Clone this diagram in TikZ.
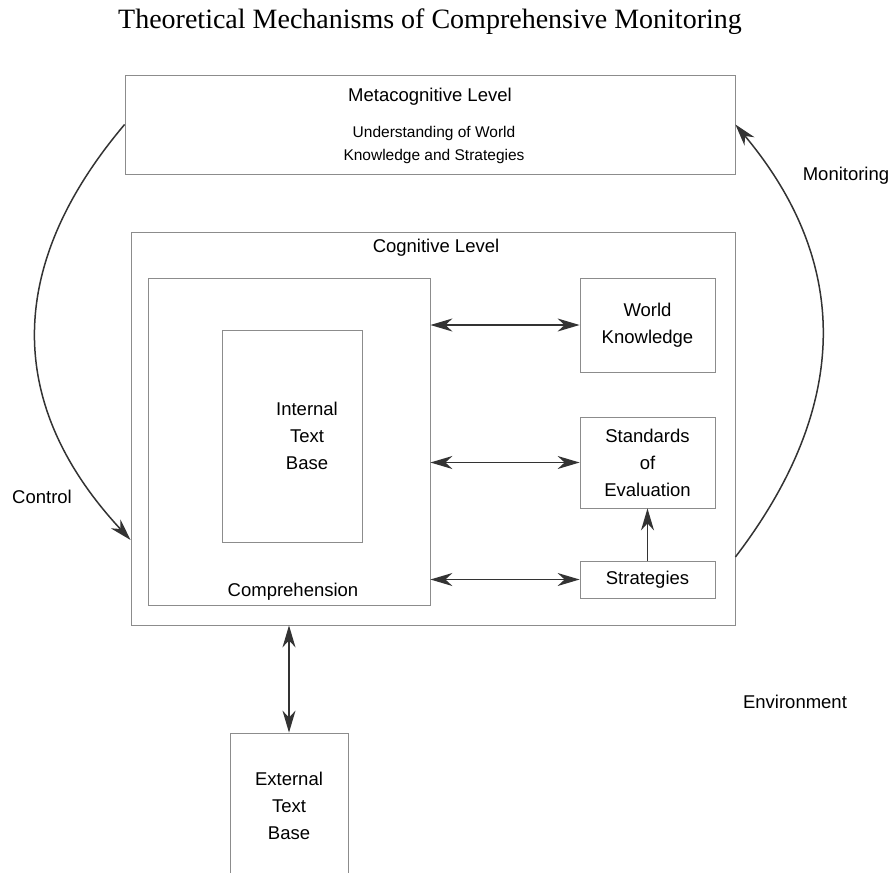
\documentclass[tikz,border=0pt]{standalone}
\usepackage{fontspec}
\setmainfont{Liberation Serif}
\setsansfont{Liberation Sans}
\usetikzlibrary{arrows.meta}

\begin{document}
\begin{tikzpicture}[x={(1pt,0)},y={(0,-1pt)},>={Stealth[length=22pt,width=13pt,inset=7pt]}]
    \tikzstyle{box}=[draw=black!45,line width=0.8pt,inner sep=0pt,align=center,font=\sffamily\fontsize{18.5}{27}\selectfont]
    \tikzstyle{lbl}=[font=\sffamily\fontsize{18.5}{27}\selectfont,align=center,inner sep=0pt]
    \tikzstyle{small}=[font=\sffamily\fontsize{15.5}{23}\selectfont,align=center,inner sep=0pt]
    \tikzstyle{link}=[draw=black!80,line width=1.5pt]
    \useasboundingbox (0,0) rectangle (895,873);
    % title
    \node[font=\rmfamily\fontsize{28}{30}\selectfont] (title) at (430,22) {Theoretical Mechanisms of Comprehensive Monitoring};
    % levels
    \node[box,minimum width=610,minimum height=99] (meta) at (430,124.5) {};
    \node[lbl]   (metalbl) at (430,97)  {Metacognitive Level};
    \node[small] (metasub) at (434,145) {Understanding of World\\Knowledge and Strategies};
    \node[box,minimum width=604,minimum height=393] (cog) at (433,428.5) {};
    \node[lbl]   (coglbl)  at (436,248) {Cognitive Level};
    % comprehension
    \node[box,minimum width=282,minimum height=327] (comp) at (289,441.5) {};
    \node[box,minimum width=140,minimum height=212] (itb)  at (292,436) {};
    \node[lbl]   (itblbl)  at ([xshift=15pt]itb.center) {Internal\\Text\\Base};
    \node[lbl]   (complbl) at (293,592) {Comprehension};
    % right boxes
    \node[box,minimum width=135,minimum height=94] (wk)    at (647.5,325)   {World\\Knowledge};
    \node[box,minimum width=135,minimum height=91] (std)   at (647.5,462.5) {Standards\\of\\Evaluation};
    \node[box,minimum width=135,minimum height=37] (strat) at (647.5,579.5) {Strategies};
    % external text base, cut by the page edge
    \begin{scope}
        \clip (0,0) rectangle (895,873);
        \node[box,minimum width=118,minimum height=146] (ext) at (289,806) {External\\Text\\Base};
    \end{scope}
    \node[lbl] (env)  at (795,702) {Environment};
    \node[lbl] (ctrl) at (42,497)  {Control};
    \node[lbl] (mon)  at (846,176) {Monitoring};
    % connectors
    \draw[link,<->] (comp.east |- wk.west) -- (wk.west);
    \draw[link,<->] (comp.east |- std.west) -- (std.west);
    \draw[link,<->] (comp.east |- strat.west) -- (strat.west);
    \draw[link,->] (strat.north) -- (std.south);
    \draw[link,<->] (ext.north |- cog.south) -- (ext.north);
    \draw[link,->] (meta.west) .. controls (4,267) and (6,406) .. ([yshift=-111.5pt]cog.west);
    \draw[link,->] ([yshift=-128.5pt]cog.east) .. controls (850,407) and (852,264) .. (meta.east);
\end{tikzpicture}
\end{document}
